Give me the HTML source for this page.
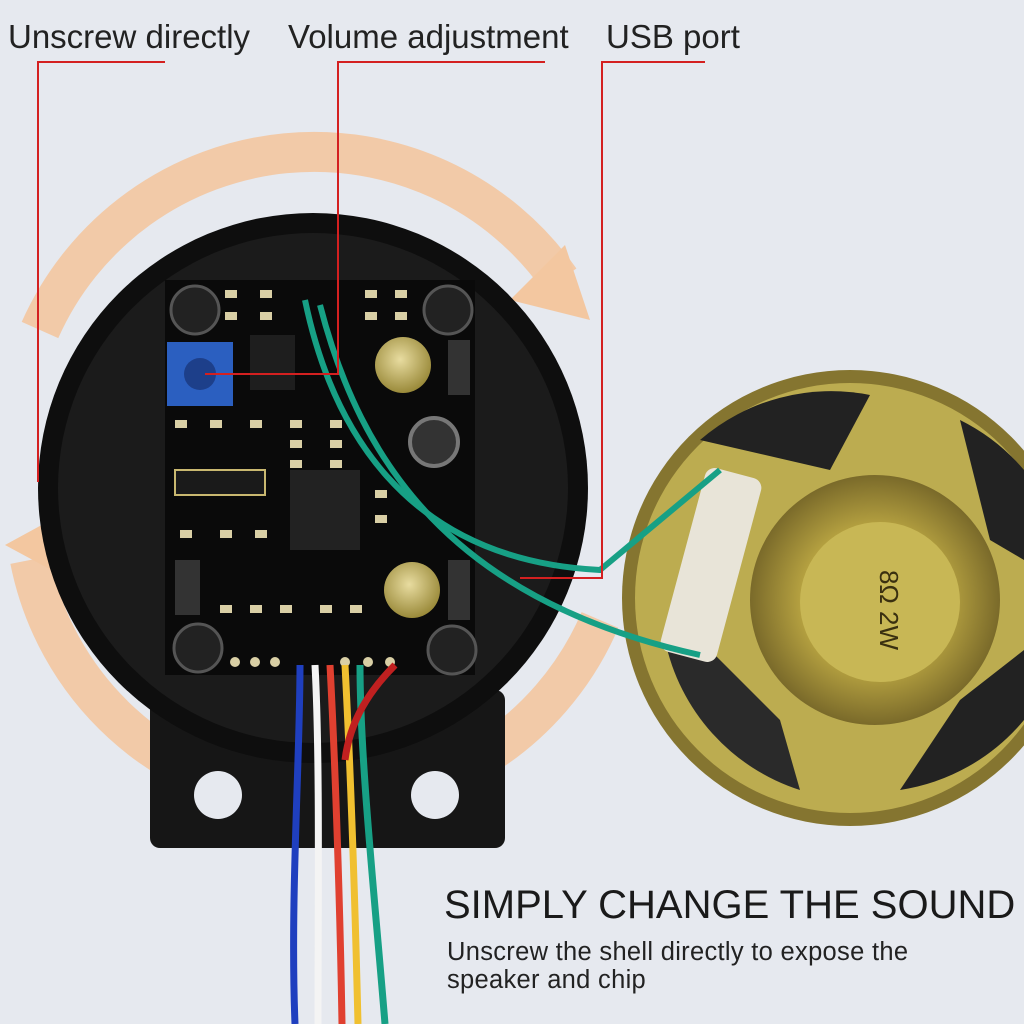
<!DOCTYPE html>
<html><head><meta charset="utf-8"><style>
html,body{margin:0;padding:0;background:#e6e9ef;}
.wrap{position:relative;width:1024px;height:1024px;overflow:hidden;background:#e6e9ef;font-family:"Liberation Sans",sans-serif;}
.lbl{position:absolute;top:18px;font-size:33px;color:#222;white-space:nowrap;}
.t1{position:absolute;left:444px;top:883px;font-size:40px;color:#1a1a1a;white-space:nowrap;}
.t2{position:absolute;left:447px;top:938px;font-size:25.5px;letter-spacing:0.3px;line-height:28px;color:#222;white-space:nowrap;}
</style></head><body><div class="wrap">
<svg width="1024" height="1024" style="position:absolute;left:0;top:0">
<defs>
<radialGradient id="sp" cx="50%" cy="50%" r="50%">
<stop offset="0" stop-color="#c9b85a"/><stop offset="0.6" stop-color="#b4a040"/><stop offset="1" stop-color="#7a6a2a"/>
</radialGradient>
<radialGradient id="cap" cx="45%" cy="40%" r="60%">
<stop offset="0" stop-color="#e8dca0"/><stop offset="1" stop-color="#9a8a3a"/>
</radialGradient>
</defs>
<path d="M40 330 A 300 300 0 0 1 560 280" fill="none" stroke="#f3c7a0" stroke-width="40" opacity="0.9"/>
<polygon points="510,300 590,320 565,245" fill="#f3c7a0"/>
<path d="M30 560 A 300 300 0 0 0 600 620" fill="none" stroke="#f3c7a0" stroke-width="40" opacity="0.9"/>
<polygon points="5,545 60,515 70,580" fill="#f3c7a0"/>
<rect x="150" y="690" width="355" height="158" rx="10" fill="#161616"/>
<circle cx="218" cy="795" r="24" fill="#e6e9ef"/>
<circle cx="435" cy="795" r="24" fill="#e6e9ef"/>
<circle cx="313" cy="488" r="275" fill="#0e0e0e"/>
<circle cx="313" cy="488" r="255" fill="#1b1b1b"/>
<rect x="165" y="280" width="310" height="395" fill="#0a0a0a"/>
<circle cx="195" cy="310" r="24" fill="#222" stroke="#555" stroke-width="3"/>
<circle cx="448" cy="310" r="24" fill="#222" stroke="#555" stroke-width="3"/>
<circle cx="198" cy="648" r="24" fill="#222" stroke="#555" stroke-width="3"/>
<circle cx="452" cy="650" r="24" fill="#222" stroke="#555" stroke-width="3"/>
<rect x="167" y="342" width="66" height="64" fill="#2b5fc0"/>
<circle cx="200" cy="374" r="16" fill="#1d3f8a"/>
<circle cx="403" cy="365" r="28" fill="url(#cap)"/>
<circle cx="434" cy="442" r="24" fill="#333" stroke="#777" stroke-width="4"/>
<circle cx="412" cy="590" r="28" fill="url(#cap)"/>
<rect x="290" y="470" width="70" height="80" fill="#222"/>
<rect x="250" y="335" width="45" height="55" fill="#1e1e1e"/>
<rect x="448" y="340" width="22" height="55" fill="#333"/>
<rect x="448" y="560" width="22" height="60" fill="#333"/>
<rect x="175" y="560" width="25" height="55" fill="#333"/>
<rect x="175" y="470" width="90" height="25" fill="#1a1a1a" stroke="#c9b870" stroke-width="2"/>
<g fill="#d9cfa5">
<rect x="225" y="290" width="12" height="8"/><rect x="260" y="290" width="12" height="8"/><rect x="225" y="312" width="12" height="8"/><rect x="260" y="312" width="12" height="8"/>
<rect x="365" y="290" width="12" height="8"/><rect x="395" y="290" width="12" height="8"/><rect x="365" y="312" width="12" height="8"/><rect x="395" y="312" width="12" height="8"/>
<rect x="175" y="420" width="12" height="8"/><rect x="210" y="420" width="12" height="8"/><rect x="250" y="420" width="12" height="8"/><rect x="290" y="420" width="12" height="8"/><rect x="330" y="420" width="12" height="8"/>
<rect x="290" y="440" width="12" height="8"/><rect x="330" y="440" width="12" height="8"/><rect x="290" y="460" width="12" height="8"/><rect x="330" y="460" width="12" height="8"/>
<rect x="375" y="490" width="12" height="8"/><rect x="375" y="515" width="12" height="8"/><rect x="180" y="530" width="12" height="8"/><rect x="220" y="530" width="12" height="8"/><rect x="255" y="530" width="12" height="8"/>
<rect x="220" y="605" width="12" height="8"/><rect x="250" y="605" width="12" height="8"/><rect x="280" y="605" width="12" height="8"/><rect x="320" y="605" width="12" height="8"/><rect x="350" y="605" width="12" height="8"/>
<circle cx="235" cy="662" r="5"/><circle cx="255" cy="662" r="5"/><circle cx="275" cy="662" r="5"/><circle cx="345" cy="662" r="5"/><circle cx="368" cy="662" r="5"/><circle cx="390" cy="662" r="5"/>
</g>
<circle cx="850" cy="598" r="228" fill="#857530"/>
<circle cx="850" cy="598" r="215" fill="#bcac50"/>
<path d="M700 440 A 200 200 0 0 1 870 395 L 830 470 Z" fill="#222"/>
<path d="M960 420 A 200 200 0 0 1 1024 470 L 1024 560 L 990 540 Z" fill="#222"/>
<path d="M665 640 A 200 200 0 0 0 800 790 L 780 720 L 700 640 Z" fill="#2a2a2a"/>
<path d="M900 790 A 200 200 0 0 0 1024 720 L 1024 650 L 960 700 Z" fill="#222"/>
<circle cx="875" cy="600" r="125" fill="url(#sp)"/>
<circle cx="880" cy="602" r="80" fill="#c8b755"/>
<text x="880" y="610" font-size="26" fill="#3a3010" transform="rotate(90 880 610)" text-anchor="middle" font-family="Liberation Sans">8Ω 2W</text>
<rect x="682" y="470" width="58" height="190" rx="10" fill="#e8e4d8" transform="rotate(15 711 565)"/>
<path d="M305 300 C 330 420 400 560 600 570 L 720 470" fill="none" stroke="#17a085" stroke-width="6"/>
<path d="M320 305 C 360 460 450 600 700 655" fill="none" stroke="#17a085" stroke-width="6"/>
<path d="M300 665 C 300 760 290 900 295 1024" stroke="#1f3fbf" stroke-width="7" fill="none"/>
<path d="M315 665 C 320 760 318 900 318 1024" stroke="#f4f4f4" stroke-width="7" fill="none"/>
<path d="M330 665 C 335 760 340 900 342 1024" stroke="#e04030" stroke-width="7" fill="none"/>
<path d="M345 665 C 350 760 355 900 358 1024" stroke="#f0c030" stroke-width="7" fill="none"/>
<path d="M360 665 C 360 760 375 900 385 1024" stroke="#17a085" stroke-width="7" fill="none"/>
<path d="M395 665 C 370 690 350 720 345 760" stroke="#c02020" stroke-width="7" fill="none"/>
<g stroke="#d42020" stroke-width="2" fill="none">
<polyline points="165,62 38,62 38,482"/>
<polyline points="545,62 338,62 338,374 205,374"/>
<polyline points="705,62 602,62 602,578 520,578"/>
</g>
</svg>
<div class="lbl" style="left:8px">Unscrew directly</div>
<div class="lbl" style="left:288px">Volume adjustment</div>
<div class="lbl" style="left:606px">USB port</div>
<div class="t1">SIMPLY CHANGE THE SOUND</div>
<div class="t2">Unscrew the shell directly to expose the<br>speaker and chip</div>
</div></body></html>
